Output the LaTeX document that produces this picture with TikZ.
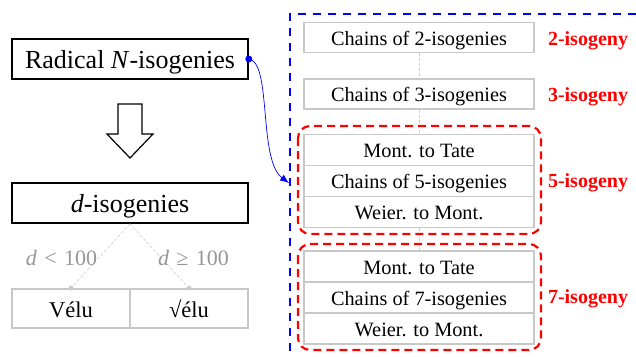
\documentclass[tikz,border=0pt]{standalone}
\usepackage{fontspec}
\setmainfont{Liberation Serif}
\usetikzlibrary{arrows.meta}
\definecolor{boxgray}{RGB}{200,200,200}
\definecolor{labelgray}{RGB}{150,150,150}
\definecolor{linkgray}{RGB}{205,205,205}
\definecolor{myred}{RGB}{255,0,0}
\definecolor{myblue}{RGB}{0,0,255}
\begin{document}
\begin{tikzpicture}[x=1pt,y=-1pt,
  bigbox/.style={draw=black, line width=1.6pt, minimum width=236pt, minimum height=40pt, inner sep=0pt, text height=18pt, text depth=0pt, font=\fontsize{26}{30}\selectfont},
  graybox/.style={draw=boxgray, line width=1.8pt, minimum width=230pt, minimum height=30pt, inner sep=0pt, text height=15pt, text depth=0pt, font=\fontsize{20.3}{24}\selectfont},
  stackbox/.style={graybox, minimum height=31pt},
  algbox/.style={draw=boxgray, line width=1.8pt, minimum width=118pt, minimum height=39pt, inner sep=0pt, text height=17pt, text depth=0pt, font=\fontsize{22.5}{26}\selectfont},
  redlabel/.style={anchor=base, text=myred, font=\fontsize{20}{24}\selectfont\bfseries},
  graylabel/.style={anchor=base, text=labelgray, font=\fontsize{22}{26}\selectfont},
  link/.style={draw=linkgray, line width=0.6pt, dash pattern=on 3pt off 2pt},
  groupbox/.style={draw=myred, line width=2.2pt, dash pattern=on 8pt off 5pt, rounded corners=12pt},
]
\useasboundingbox (0,0) rectangle (636,356);

% left side
\node[bigbox] (rad) at (130,59) {Radical \textit{N}-isogenies};
\filldraw[black, fill=white, line width=1.2pt]
  (118,104) -- (142,104) -- (142,134) -- (153,134) -- (130,158) -- (107,134) -- (118,134) -- cycle;
\node[bigbox] (dis) at (130,203) {\textit{d}-isogenies};
\node[algbox] (velu) at (71,308.5) {Vélu};
\node[algbox] (svelu) at (189,308.5) {√élu};
\draw[link] (dis.south) -- (velu.north);
\draw[link] (dis.south) -- (svelu.north);
\fill[linkgray] (velu.north) circle (2.6pt);
\fill[linkgray] (svelu.north) circle (2.6pt);
\node[graylabel] (lt) at (61.5,265) {\textit{d}\,\,<\,\,100};
\node[graylabel] (ge) at (193.5,265) {\textit{d}\,\,≥\,\,100};

% right side frame
\draw[myblue, line width=2.4pt, dash pattern=on 8pt off 7pt] (636,14) -- (290,14) -- (290,356);

\node[graybox] (c2) at (419,37.5) {Chains of 2-isogenies};
\node[graybox] (c3) at (419,94) {Chains of 3-isogenies};
\node[stackbox] (t5) at (419,150) {Mont. to Tate};
\node[stackbox] (c5) at (419,181) {Chains of 5-isogenies};
\node[stackbox] (w5) at (419,212) {Weier. to Mont.};
\node[stackbox] (t7) at (419,266.5) {Mont. to Tate};
\node[stackbox] (c7) at (419,297.5) {Chains of 7-isogenies};
\node[stackbox] (w7) at (419,328.5) {Weier. to Mont.};

\draw[link] (c2.south) -- (c3.north);
\draw[link] (c3.south) -- (t5.north);
\draw[link] (w5.south) -- (t7.north);

\draw[groupbox] (298,126) rectangle (541,234);
\draw[groupbox] (298,244) rectangle (541,350);

\node[redlabel] (l2) at (588,45) {2-isogeny};
\node[redlabel] (l3) at (588,101) {3-isogeny};
\node[redlabel] (l5) at (588,187) {5-isogeny};
\node[redlabel] (l7) at (588,303) {7-isogeny};

% connector
\coordinate (tip) at (289,183);
\fill[myblue] (rad.east) circle (3.5pt);
\draw[myblue, line width=0.7pt, -{Latex[length=9pt,width=7pt]}]
  (rad.east) .. controls (272,62) and (258,160) .. (tip);
\end{tikzpicture}
\end{document}
